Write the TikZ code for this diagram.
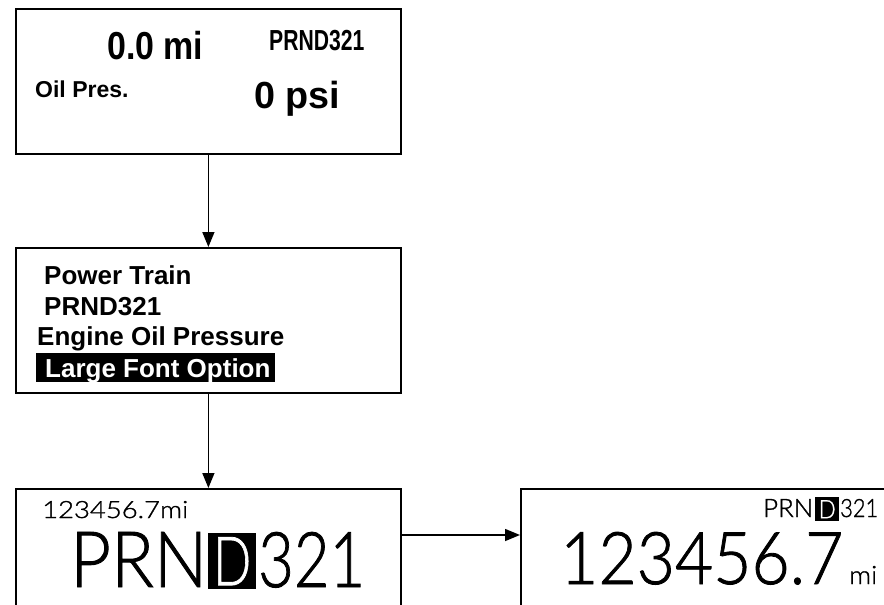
\documentclass[tikz,border=0pt]{standalone}
\usepackage{fontspec}
\usepackage{graphicx}
\setmainfont{Liberation Sans}
\newfontfamily\lcd{Lato Light}[FakeBold=1.2]
\usetikzlibrary{arrows.meta}
\tikzset{
  panel/.style={draw=black, line width=1.8pt, rectangle, inner sep=0pt, anchor=north west},
  txt/.style={inner sep=0pt, anchor=base west},
  arr/.style={line width=1.5pt, -{Triangle[length=15pt,width=12pt]}},
  inv/.style={fill=black, text=white, inner sep=0pt, anchor=north west, rectangle}
}
\begin{document}
\begin{tikzpicture}[x=1pt,y=-1pt]
\useasboundingbox (0,0) rectangle (884,605);
\clip (0,0) rectangle (884,605);
\fill[white] (0,0) rectangle (884,605);

% panels
\node[panel, minimum width=385pt, minimum height=145pt] (b1) at (15,8) {};
\node[panel, minimum width=385pt, minimum height=145pt] (b2) at (15,247) {};
\node[panel, minimum width=385pt, minimum height=200pt] (b3) at (15,488) {};
\node[panel, minimum width=420pt, minimum height=200pt] (b4) at (520,488) {};

% connectors
\draw[arr] (b1.south) -- (b2.north);
\draw[arr] (b2.south) -- (b3.north);
\draw[arr] ([yshift=-47pt]b3.north east) -- ([yshift=-47pt]b4.north west);

% panel 1
\node[txt] (t1) at (107,59) {\scalebox{0.87}[1]{\fontsize{39}{39}\selectfont\bfseries 0.0 mi}};
\node[txt] (t2) at (269,50) {\scalebox{0.73}[1]{\fontsize{29}{29}\selectfont\bfseries PRND321}};
\node[txt] (t3) at (35,97) {\fontsize{23}{23}\selectfont\bfseries Oil Pres.};
\node[txt] (t4) at (254,108) {\resizebox{86pt}{!}{\fontsize{40}{40}\selectfont\bfseries 0 psi}};

% panel 2
\node[txt] (m1) at (44,284) {\fontsize{26}{26}\selectfont\bfseries Power Train};
\node[txt] (m2) at (44,315) {\fontsize{26}{26}\selectfont\bfseries PRND321};
\node[txt] (m3) at (37,345) {\fontsize{26}{26}\selectfont\bfseries Engine Oil Pressure};
\node[inv, minimum width=239pt, minimum height=29pt] (hl) at (36,353) {};
\node[txt, text=white] (m4) at (45,377) {\fontsize{26}{26}\selectfont\bfseries Large Font Option};

% panel 3
\node[txt] (c1) at (42,518) {\resizebox{146pt}{17pt}{\lcd 123456.7mi}};
\node[txt] (c2) at (70,587) {\resizebox{137pt}{55pt}{\lcd PRN}};
\node[inv, minimum width=48pt, minimum height=56pt] (c3) at (208,533) {\resizebox{38pt}{48pt}{\lcd D}};
\node[txt] (c4) at (258,587) {\resizebox{107pt}{55pt}{\lcd 321}};

% panel 4
\node[txt] (d1) at (763,517) {\resizebox{50pt}{18pt}{\lcd PRN}};
\node[inv, minimum width=24pt, minimum height=24pt] (d2) at (815,497) {\resizebox{17pt}{18pt}{\lcd D}};
\node[txt] (d3) at (840,517) {\resizebox{38pt}{18pt}{\lcd 321}};
\node[txt] (d4) at (560,584) {\resizebox{283pt}{52pt}{\lcd 123456.7}};
\node[txt] (d5) at (849,584) {\resizebox{28pt}{18pt}{\lcd mi}};
\end{tikzpicture}
\end{document}
